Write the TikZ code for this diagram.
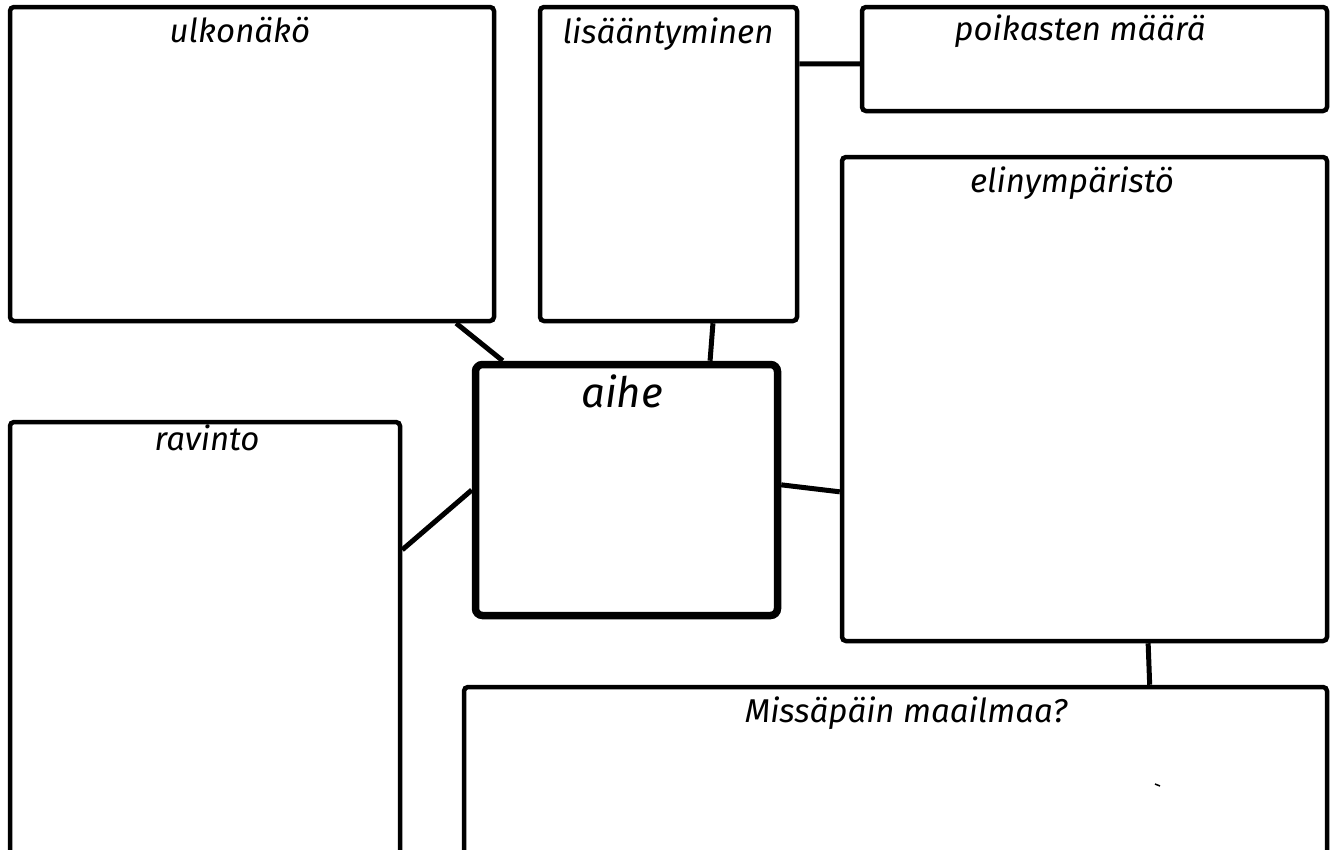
\documentclass[tikz,border=0pt]{standalone}
\usepackage{fontspec}
\newfontfamily\hand{Fira Sans}
\usetikzlibrary{calc}
\tikzset{
  box/.style={draw=black, line width=4.5pt, rounded corners=4pt, fill=white, inner sep=0pt},
  mainbox/.style={draw=black, line width=7.5pt, rounded corners=7pt, fill=white, inner sep=0pt},
  conn/.style={draw=black, line width=5pt},
  lbl/.style={anchor=base, inner sep=0pt, font=\hand\itshape\fontsize{33}{36}\selectfont},
  biglbl/.style={anchor=base, inner sep=0pt, font=\hand\itshape\fontsize{42}{45}\selectfont}
}
\begin{document}
\begin{tikzpicture}[x=1pt,y=-1pt]
\useasboundingbox[fill=white] (0,0) rectangle (1341,849);
% boxes
\node[box, minimum width=484pt, minimum height=314pt] (ulk) at (252,164) {};
\node[box, minimum width=257pt, minimum height=314pt] (lis) at (668.5,164) {};
\node[box, minimum width=465pt, minimum height=104pt] (poi) at (1094.5,59) {};
\node[box, minimum width=485pt, minimum height=484pt] (elin) at (1084.5,399) {};
\node[box, minimum width=390pt, minimum height=460pt] (rav) at (205,652) {};
\node[box, minimum width=863pt, minimum height=200pt] (miss) at (895.5,787) {};
\node[mainbox, minimum width=302pt, minimum height=251pt] (aihe) at (626.5,490) {};
% labels
\node[lbl] (tulk) at (240,42) {ulkonäkö};
\node[lbl] (tlis) at (668,43) {lisääntyminen};
\node[lbl] (tpoi) at (1080,40) {poikasten määrä};
\node[lbl] (telin) at (1072,192) {elinympäristö};
\node[lbl] (trav) at (207,450) {ravinto};
\node[lbl] (tmiss) at (906,722) {Missäpäin maailmaa?};
\node[biglbl] (taihe) at (622,407) {aihe};
% connectors
\draw[conn] ($(ulk.south west)!0.918!(ulk.south east)$) -- ($(aihe.north west)!0.10!(aihe.north east)$);
\draw[conn] ($(lis.south west)!0.67!(lis.south east)$) -- ($(aihe.north west)!0.77!(aihe.north east)$);
\draw[conn] ($(lis.north east)!0.186!(lis.south east)$) -- ($(poi.north west)!0.546!(poi.south west)$);
\draw[conn] ($(aihe.north west)!0.50!(aihe.south west)$) -- ($(rav.north east)!0.28!(rav.south east)$);
\draw[conn] ($(aihe.north east)!0.48!(aihe.south east)$) -- ($(elin.north west)!0.69!(elin.south west)$);
\draw[conn] ($(elin.south west)!0.63!(elin.south east)$) -- ($(miss.north west)!0.793!(miss.north east)$);
% small stray mark
\coordinate (m1) at (1155,784);
\coordinate (m2) at (1160,786);
\draw[line width=1.5pt] (m1) -- (m2);
\end{tikzpicture}
\end{document}
